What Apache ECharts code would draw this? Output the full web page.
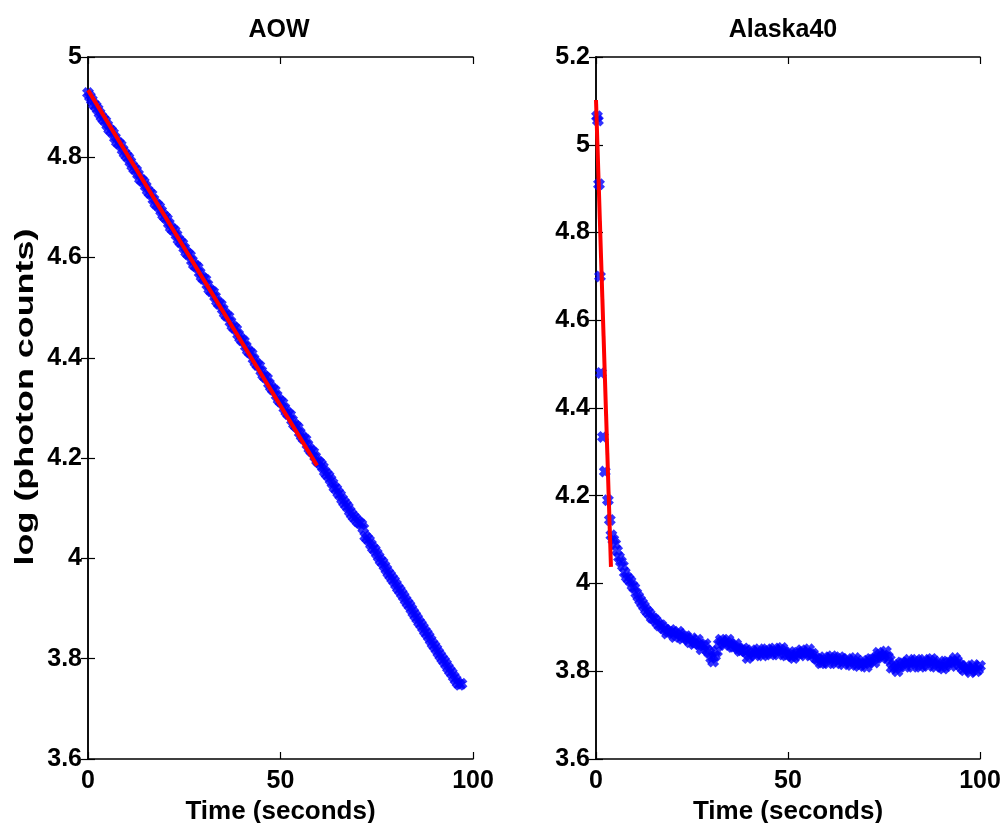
<!DOCTYPE html>
<html>
<head>
<meta charset="utf-8">
<script src="https://cdn.jsdelivr.net/npm/echarts@6/dist/echarts.min.js"></script>
<style>html,body{margin:0;padding:0;background:#fff}#c{width:1002px;height:823px}</style>
</head>
<body>
<div id="c"></div>
<script>
// ---- Data ----
const titles = ['AOW', 'Alaska40'];
const xAxisTitle = 'Time (seconds)';
const yAxisTitle = 'log (photon counts)';

const aowTime = [0,1,2,3,4,5,6,7,8,9,10,11,12,13,14,15,16,17,18,19,20,21,22,23,24,25,26,27,28,29,30,31,32,33,34,35,36,37,38,39,40,41,42,43,44,45,46,47,48,49,50,51,52,53,54,55,56,57,58,59,60,61,62,63,64,65,66,67,68,69,70,71,72,73,74,75,76,77,78,79,80,81,82,83,84,85,86,87,88,89,90,91,92,93,94,95,96,97];
const aowLog = [4.928,4.914,4.902,4.888,4.876,4.864,4.853,4.839,4.828,4.815,4.803,4.791,4.777,4.766,4.754,4.742,4.729,4.716,4.705,4.693,4.681,4.668,4.656,4.645,4.631,4.619,4.607,4.594,4.583,4.570,4.558,4.546,4.533,4.522,4.508,4.497,4.484,4.472,4.460,4.447,4.435,4.423,4.411,4.398,4.386,4.374,4.362,4.349,4.337,4.325,4.313,4.300,4.288,4.276,4.264,4.251,4.239,4.227,4.214,4.203,4.192,4.182,4.168,4.157,4.142,4.131,4.118,4.107,4.094,4.083,4.074,4.068,4.044,4.036,4.021,4.010,3.996,3.985,3.971,3.960,3.948,3.936,3.924,3.911,3.899,3.886,3.873,3.862,3.850,3.837,3.825,3.812,3.800,3.789,3.776,3.764,3.752,3.750];
const aowTimeHalf = [0.5,1.5,2.5,3.5,4.5,5.5,6.5,7.5,8.5,9.5,10.5,11.5,12.5,13.5,14.5,15.5,16.5,17.5,18.5,19.5,20.5,21.5,22.5,23.5,24.5,25.5,26.5,27.5,28.5,29.5,30.5,31.5,32.5,33.5,34.5,35.5,36.5,37.5,38.5,39.5,40.5,41.5,42.5,43.5,44.5,45.5,46.5,47.5,48.5,49.5,50.5,51.5,52.5,53.5,54.5,55.5,56.5,57.5,58.5,59.5,60.5,61.5,62.5,63.5,64.5,65.5,66.5,67.5,68.5,69.5,70.5,71.5,72.5,73.5,74.5,75.5,76.5,77.5,78.5,79.5,80.5,81.5,82.5,83.5,84.5,85.5,86.5,87.5,88.5,89.5,90.5,91.5,92.5,93.5,94.5,95.5,96.5];
const aowLogHalf = [4.921,4.906,4.896,4.881,4.872,4.856,4.848,4.831,4.824,4.808,4.799,4.783,4.774,4.757,4.750,4.734,4.726,4.708,4.701,4.685,4.677,4.660,4.653,4.636,4.628,4.611,4.604,4.586,4.580,4.562,4.556,4.537,4.531,4.513,4.506,4.489,4.482,4.464,4.457,4.440,4.433,4.415,4.408,4.391,4.384,4.366,4.359,4.342,4.335,4.317,4.310,4.293,4.286,4.268,4.261,4.244,4.237,4.219,4.212,4.195,4.188,4.173,4.164,4.150,4.138,4.126,4.112,4.102,4.088,4.079,4.071,4.060,4.040,4.028,4.017,4.003,3.992,3.978,3.966,3.955,3.941,3.930,3.917,3.906,3.892,3.880,3.868,3.855,3.844,3.830,3.819,3.806,3.795,3.782,3.771,3.758,3.748];
const aowFitTime = [0, 59.5];
const aowFitLog = [4.934, 4.185];

const alaskaTime = [0.26,0.5,0.78,1.04,1.3,1.8,2.3,3.1,3.6,4,5,6,7,8,9,10,11,12,13,14,15,16,17,18,19,20,21,22,23,24,25,26,27,28,29,30,31,32,33,34,35,36,37,38,39,40,41,42,43,44,45,46,47,48,49,50,51,52,53,54,55,56,57,58,59,60,61,62,63,64,65,66,67,68,69,70,71,72,73,74,75,76,77,78,79,80,81,82,83,84,85,86,87,88,89,90,91,92,93,94,95,96,97,98,99,100];
const alaskaLog = [5.065,5.055,4.91,4.70,4.48,4.334,4.255,4.19,4.145,4.11,4.09,4.06,4.04,4.015,4.005,3.99,3.97,3.955,3.94,3.93,3.92,3.91,3.905,3.895,3.89,3.888,3.882,3.885,3.878,3.872,3.875,3.866,3.86,3.858,3.848,3.83,3.835,3.862,3.868,3.866,3.862,3.856,3.852,3.848,3.845,3.836,3.842,3.845,3.84,3.843,3.846,3.842,3.846,3.849,3.843,3.838,3.834,3.836,3.84,3.844,3.842,3.838,3.832,3.826,3.82,3.826,3.83,3.826,3.823,3.828,3.822,3.82,3.824,3.818,3.816,3.818,3.82,3.826,3.832,3.838,3.836,3.833,3.808,3.806,3.812,3.818,3.82,3.817,3.822,3.818,3.814,3.82,3.824,3.818,3.816,3.81,3.815,3.82,3.822,3.824,3.812,3.802,3.806,3.808,3.80,3.812];
const alaskaTimeHalf = [4.5,5.5,6.5,7.5,8.5,9.5,10.5,11.5,12.5,13.5,14.5,15.5,16.5,17.5,18.5,19.5,20.5,21.5,22.5,23.5,24.5,25.5,26.5,27.5,28.5,29.5,30.5,31.5,32.5,33.5,34.5,35.5,36.5,37.5,38.5,39.5,40.5,41.5,42.5,43.5,44.5,45.5,46.5,47.5,48.5,49.5,50.5,51.5,52.5,53.5,54.5,55.5,56.5,57.5,58.5,59.5,60.5,61.5,62.5,63.5,64.5,65.5,66.5,67.5,68.5,69.5,70.5,71.5,72.5,73.5,74.5,75.5,76.5,77.5,78.5,79.5,80.5,81.5,82.5,83.5,84.5,85.5,86.5,87.5,88.5,89.5,90.5,91.5,92.5,93.5,94.5,95.5,96.5,97.5,98.5,99.5];
const alaskaLogHalf = [4.10,4.075,4.05,4.025,4.01,3.995,3.978,3.962,3.948,3.935,3.922,3.916,3.904,3.898,3.886,3.894,3.878,3.89,3.874,3.88,3.866,3.862,3.872,3.85,3.862,3.842,3.822,3.845,3.872,3.86,3.872,3.855,3.862,3.846,3.852,3.83,3.848,3.836,3.85,3.836,3.85,3.838,3.852,3.838,3.853,3.836,3.844,3.83,3.842,3.848,3.836,3.85,3.84,3.828,3.818,3.832,3.818,3.834,3.818,3.832,3.816,3.828,3.814,3.83,3.812,3.824,3.81,3.828,3.82,3.842,3.83,3.845,3.826,3.814,3.8,3.82,3.81,3.826,3.81,3.826,3.81,3.826,3.812,3.828,3.81,3.822,3.806,3.822,3.812,3.83,3.816,3.806,3.812,3.798,3.814,3.804];
const alaskaFitTime = [0, 3.9];
const alaskaFitLog = [5.102, 4.038];

// ---- Chart ----
const FONT = '"Liberation Sans", Arial, sans-serif';
const X_SYMBOL = 'path://M0,3 L3,0 L5,2 L7,0 L10,3 L8,5 L10,7 L7,10 L5,8 L3,10 L0,7 L2,5 Z';
const zip = (a, b) => a.map((v, i) => [v, b[i]]);

const axisLine = { show: true, lineStyle: { color: '#000', width: 1.5 } };
const tick = { inside: true, length: 7, lineStyle: { color: '#000', width: 1.2 } };
const labelStyle = { color: '#000', fontFamily: FONT, fontWeight: 'bold', fontSize: 25 };

function xAxes(gi) {
  return [
    { gridIndex: gi, type: 'value', min: 0, max: 100, interval: 50, position: 'bottom',
      axisLine, axisTick: tick,
      axisLabel: { ...labelStyle, margin: 10 }, splitLine: { show: false },
      name: xAxisTitle, nameLocation: 'middle', nameGap: 34,
      nameTextStyle: { color: '#000', fontFamily: FONT, fontWeight: 'bold', fontSize: 26 } },
    { gridIndex: gi, type: 'value', min: 0, max: 100, interval: 50, position: 'top',
      axisLine, axisTick: tick, axisLabel: { show: false }, splitLine: { show: false } }
  ];
}
function yAxes(gi, min, max) {
  return [
    { gridIndex: gi, type: 'value', min, max, interval: 0.2, position: 'left',
      axisLine, axisTick: tick,
      axisLabel: { ...labelStyle, margin: 6, formatter: v => String(+v.toFixed(1)) },
      splitLine: { show: false } },
    { gridIndex: gi, type: 'value', min, max, interval: 0.2, position: 'right',
      axisLine, axisTick: tick, axisLabel: { show: false }, splitLine: { show: false } }
  ];
}

const chart = echarts.init(document.getElementById('c'));
chart.setOption({
  backgroundColor: '#fff',
  animation: false,
  title: [
    { text: titles[0], left: 274, top: 13, textAlign: 'center',
      textStyle: { color: '#000', fontFamily: FONT, fontWeight: 'bold', fontSize: 25 } },
    { text: titles[1], left: 778, top: 13, textAlign: 'center',
      textStyle: { color: '#000', fontFamily: FONT, fontWeight: 'bold', fontSize: 25 } }
  ],
  graphic: [
    { type: 'text', x: 26, y: 397, rotation: Math.PI / 2, scaleX: 1.38,
      style: { text: yAxisTitle, fill: '#000', font: 'bold 26px "Liberation Sans", Arial, sans-serif',
               textAlign: 'center', textVerticalAlign: 'middle' } }
  ],
  grid: [
    { left: 88, right: 529, top: 57, bottom: 64, containLabel: false, outerBoundsMode: 'none' },
    { left: 596, right: 22, top: 57, bottom: 64, containLabel: false, outerBoundsMode: 'none' }
  ],
  xAxis: [...xAxes(0), ...xAxes(1)],
  yAxis: [...yAxes(0, 3.6, 5), ...yAxes(1, 3.6, 5.2)],
  series: [
    { type: 'scatter', xAxisIndex: 0, yAxisIndex: 0,
      data: zip(aowTime, aowLog).concat(zip(aowTimeHalf, aowLogHalf)),
      symbol: X_SYMBOL, symbolSize: 12, itemStyle: { color: '#0000ff' } },
    { type: 'line', xAxisIndex: 0, yAxisIndex: 0, data: zip(aowFitTime, aowFitLog),
      showSymbol: false, symbol: 'none', lineStyle: { color: '#ff0000', width: 4 }, z: 5 },
    { type: 'scatter', xAxisIndex: 2, yAxisIndex: 2,
      data: zip(alaskaTime, alaskaLog).concat(zip(alaskaTimeHalf, alaskaLogHalf)),
      symbol: X_SYMBOL, symbolSize: 12, itemStyle: { color: '#0000ff' } },
    { type: 'line', xAxisIndex: 2, yAxisIndex: 2, data: zip(alaskaFitTime, alaskaFitLog),
      showSymbol: false, symbol: 'none', lineStyle: { color: '#ff0000', width: 4 }, z: 5 }
  ]
});
</script>
</body>
</html>
